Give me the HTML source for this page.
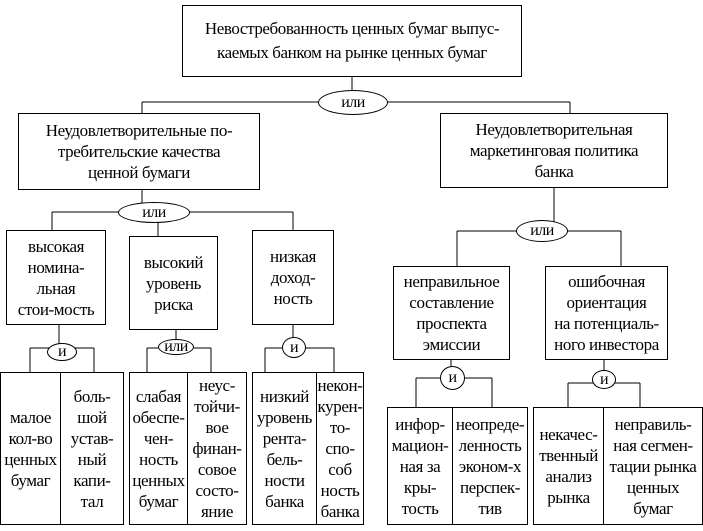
<!DOCTYPE html>
<html><head><meta charset="utf-8"><style>
body{margin:0;width:703px;height:531px;background:#fff;position:relative;overflow:hidden;font-family:"Liberation Serif",serif;}
.b{position:absolute;border:1px solid #000;box-sizing:border-box;display:flex;align-items:center;justify-content:center;text-align:center;font-size:17px;line-height:21px;letter-spacing:-0.4px;background:#fff;white-space:nowrap}
.e{position:absolute;border:1px solid #000;border-radius:50%;box-sizing:border-box;display:flex;align-items:center;justify-content:center;font-size:16px;letter-spacing:-0.5px;background:#fff}
svg{position:absolute;left:0;top:0}
</style></head><body>
<svg width="703" height="531" stroke="#000" fill="none" stroke-width="1">
<path d="M352 77V102 M142 102H570 M142 102V113 M570 102V113"/>
<path d="M142 190V212 M52 212H293 M52 212V230 M158 212V236 M293 212V230"/>
<path d="M554 188V231 M457 231H621 M457 231V266 M621 231V266"/>
<path d="M59 325V348 M30 348H94 M30 348V372 M94 348V372"/>
<path d="M176 330V348 M147 348H211 M147 348V372 M211 348V372"/>
<path d="M293 325V348 M265 348H334 M265 348V372 M334 348V372"/>
<path d="M451 360V378 M416 378H492 M416 378V407 M492 378V407"/>
<path d="M604 360V383 M568 383H640 M568 383V407 M640 383V407"/>
</svg>
<div class="b" style="left:182px;top:5px;width:340px;height:72px;line-height:24px">Невостребованность ценных бумаг выпус-<br>каемых банком на рынке ценных бумаг</div>
<div class="e" style="left:318px;top:90px;width:70px;height:25px">или</div>
<div class="b" style="left:18px;top:113px;width:242px;height:77px">Неудовлетворительные по-<br>требительские качества<br>ценной бумаги</div>
<div class="b" style="left:440px;top:113px;width:228px;height:75px">Неудовлетворительная<br>маркетинговая политика<br>банка</div>
<div class="e" style="left:118px;top:202px;width:72px;height:21px">или</div>
<div class="e" style="left:516px;top:220px;width:52px;height:22px">или</div>
<div class="b" style="left:6px;top:230px;width:100px;height:95px">высокая<br>номина-<br>льная<br>стои-мость</div>
<div class="b" style="left:129px;top:236px;width:89px;height:94px">высокий<br>уровень<br>риска</div>
<div class="b" style="left:252px;top:230px;width:82px;height:95px">низкая<br>доход-<br>ность</div>
<div class="b" style="left:393px;top:266px;width:117px;height:94px">неправильное<br>составление<br>проспекта<br>эмиссии</div>
<div class="b" style="left:545px;top:266px;width:123px;height:94px">ошибочная<br>ориентация<br>на потенциаль-<br>ного инвестора</div>
<div class="e" style="left:47px;top:343px;width:30px;height:18px">и</div>
<div class="e" style="left:158px;top:339px;width:36px;height:16px">или</div>
<div class="e" style="left:282px;top:337px;width:24px;height:21px">и</div>
<div class="e" style="left:440px;top:366px;width:25px;height:24px">и</div>
<div class="e" style="left:592px;top:370px;width:24px;height:19px">и</div>
<div class="b" style="left:0px;top:372px;width:61px;height:153px">малое<br>кол-во<br>ценных<br>бумаг</div>
<div class="b" style="left:60px;top:372px;width:64px;height:153px">боль-<br>шой<br>устав-<br>ный<br>капи-<br>тал</div>
<div class="b" style="left:129px;top:372px;width:59px;height:153px">слабая<br>обеспе-<br>чен-<br>ность<br>ценных<br>бумаг</div>
<div class="b" style="left:187px;top:372px;width:60px;height:153px">неус-<br>тойчи-<br>вое<br>финан-<br>совое<br>состо-<br>яние</div>
<div class="b" style="left:252px;top:372px;width:65px;height:153px">низкий<br>уровень<br>рента-<br>бель-<br>ности<br>банка</div>
<div class="b" style="left:316px;top:372px;width:48px;height:153px">некон-<br>курен-<br>то-<br>спо-<br>соб<br>ность<br>банка</div>
<div class="b" style="left:387px;top:407px;width:66px;height:118px">инфор-<br>мацион-<br>ная за<br>кры-<br>тость</div>
<div class="b" style="left:452px;top:407px;width:76px;height:118px">неопреде-<br>ленность<br>эконом-х<br>перспек-<br>тив</div>
<div class="b" style="left:533px;top:407px;width:71px;height:118px">некачес-<br>твенный<br>анализ<br>рынка</div>
<div class="b" style="left:603px;top:407px;width:100px;height:118px">неправиль-<br>ная сегмен-<br>тации рынка<br>ценных<br>бумаг</div>
</body></html>
